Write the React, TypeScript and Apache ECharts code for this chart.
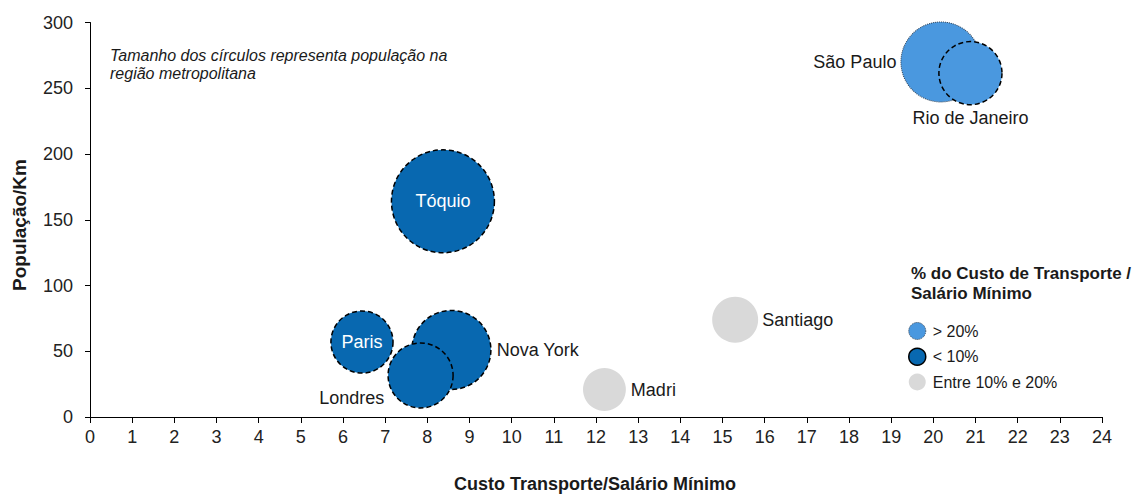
import React, { useEffect, useRef } from "react";
import * as echarts from "echarts";

const cities = ["São Paulo", "Rio de Janeiro", "Tóquio", "Paris", "Nova York", "Londres", "Madri", "Santiago"];
const custoTransporte = [20.18, 20.88, 8.37, 6.45, 8.57, 7.84, 12.2, 15.3];
const populacaoKm = [270, 261.5, 164, 57, 51, 31.6, 20.9, 74];
const populacaoMetro = [20.9, 13.0, 34.6, 12.6, 20.4, 13.8, 6.0, 6.9];
const faixa = ["alta", "alta", "baixa", "baixa", "baixa", "baixa", "media", "media"];

const categorias = ["alta", "baixa", "media"];
const categoriaNomes = ["> 20%", "< 10%", "Entre 10% e 20%"];
const xTicks = { min: 0, max: 24, interval: 1 };
const yTicks = { min: 0, max: 300, interval: 50 };

const labelCfg: Record<string, any> = {
  "São Paulo": { position: "left", distance: 4 },
  "Rio de Janeiro": { position: "bottom", distance: 4 },
  "Tóquio": { position: "inside", color: "#ffffff" },
  "Paris": { position: "inside", color: "#ffffff" },
  "Nova York": { position: "right", distance: 5 },
  "Londres": { position: "left", distance: 3, offset: [0, 23] },
  "Madri": { position: "right", distance: 5 },
  "Santiago": { position: "right", distance: 4 },
};

const seriesStyle: Record<string, any> = {
  alta: { color: "#4a98df", borderColor: "#2b3f55", borderType: "dotted", borderWidth: 1 },
  baixa: { color: "#0868b0", borderColor: "#000000", borderType: [5, 3], borderWidth: 1.5 },
  media: { color: "#d9d9d9", borderWidth: 0 },
};

const legendIconStyle: Record<string, any> = {
  alta: { borderColor: "#2b3f55", borderType: "dotted", borderWidth: 1 },
  baixa: { borderColor: "#000000", borderType: "solid", borderWidth: 1.5 },
  media: { borderWidth: 0 },
};

export default function App() {
  const ref = useRef<HTMLDivElement>(null);
  useEffect(() => {
    if (!ref.current) return;
    const chart = echarts.init(ref.current, null, { renderer: "svg" });
    const series = categorias.map((cat, ci) => {
      const data: any[] = [];
      cities.forEach((name, i) => {
        if (faixa[i] !== cat) return;
        const item: any = {
          name,
          value: [custoTransporte[i], populacaoKm[i], populacaoMetro[i]],
          label: { ...labelCfg[name] },
        };
        if (name === "Rio de Janeiro") {
          item.itemStyle = { borderColor: "#000000", borderType: [5, 3], borderWidth: 1.5 };
        }
        data.push(item);
      });
      return {
        name: categoriaNomes[ci],
        type: "scatter",
        symbol: "circle",
        symbolSize: (v: number[]) => 17.5 * Math.sqrt(v[2]),
        itemStyle: { ...seriesStyle[cat], opacity: 1 },
        label: {
          show: true,
          formatter: "{b}",
          fontFamily: "Liberation Sans, Arial, sans-serif",
          fontSize: 18,
          color: "#1a1a1a",
        },
        emphasis: { disabled: true },
        data,
      };
    });
    chart.setOption({
      animation: false,
      backgroundColor: "#ffffff",
      textStyle: { fontFamily: "Liberation Sans, Arial, sans-serif" },
      grid: { left: 90, right: 35, top: 22.5, bottom: 79, containLabel: false },
      xAxis: {
        type: "value",
        ...xTicks,
        axisLine: { show: true, lineStyle: { color: "#000000", width: 1 } },
        axisTick: { show: true, length: 6, lineStyle: { color: "#000000" } },
        axisLabel: { margin: 11, fontSize: 18, color: "#222222" },
        splitLine: { show: false },
      },
      yAxis: {
        type: "value",
        ...yTicks,
        axisLine: { show: true, lineStyle: { color: "#000000", width: 1 } },
        axisTick: { show: true, length: 5, lineStyle: { color: "#000000" } },
        axisLabel: { margin: 17, fontSize: 18, color: "#222222" },
        splitLine: { show: false },
      },
      legend: {
        orient: "vertical",
        left: 908,
        top: 322,
        padding: 0,
        itemWidth: 17,
        itemHeight: 17,
        itemGap: 7.5,
        icon: "circle",
        textStyle: { fontSize: 16, color: "#1a1a1a", padding: [0, 0, 0, 2] },
        data: categoriaNomes.map((n, i) => ({ name: n, itemStyle: legendIconStyle[categorias[i]] })),
        selectedMode: false,
      },
      graphic: [
        {
          type: "text",
          left: 110,
          top: 47,
          style: {
            text: "Tamanho dos círculos representa população na\nregião metropolitana",
            font: "italic 16px 'Liberation Sans', Arial, sans-serif",
            lineHeight: 17.5,
            fill: "#1a1a1a",
          },
        },
        {
          type: "text",
          left: 911,
          top: 263,
          style: {
            text: "% do Custo de Transporte /\nSalário Mínimo",
            font: "bold 17px 'Liberation Sans', Arial, sans-serif",
            lineHeight: 20,
            fill: "#1a1a1a",
          },
        },
        {
          type: "text",
          x: 595,
          y: 484,
          style: {
            text: "Custo Transporte/Salário Mínimo",
            font: "bold 18px 'Liberation Sans', Arial, sans-serif",
            align: "center",
            verticalAlign: "middle",
            fill: "#1a1a1a",
          },
        },
        {
          type: "text",
          x: 19,
          y: 225,
          rotation: Math.PI / 2,
          style: {
            text: "População/Km",
            font: "bold 19px 'Liberation Sans', Arial, sans-serif",
            align: "center",
            verticalAlign: "middle",
            fill: "#1a1a1a",
          },
        },
      ],
      series,
    });
    return () => chart.dispose();
  }, []);
  return (
    <div
      ref={ref}
      style={{ position: "fixed", left: 0, top: 0, width: 1137, height: 496, background: "#ffffff" }}
    />
  );
}
